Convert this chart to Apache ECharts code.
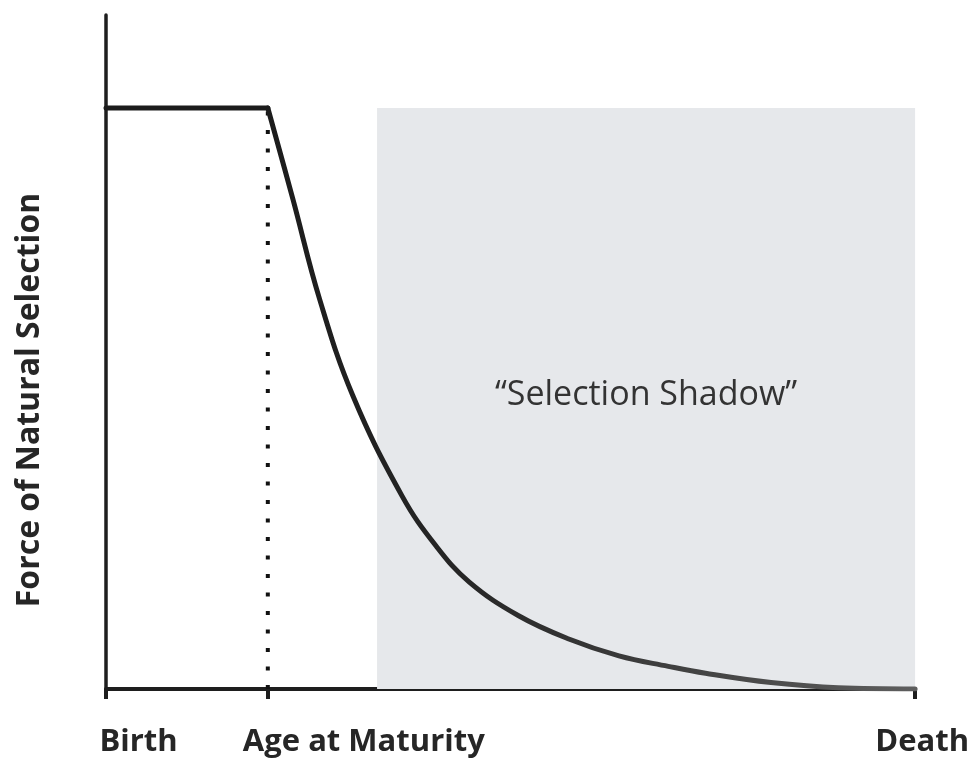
<!DOCTYPE html>
<html>
<head>
<meta charset="utf-8">
<script src="https://cdn.jsdelivr.net/npm/echarts@6/dist/echarts.min.js"></script>
<style>
  html, body { margin: 0; padding: 0; background: #fff; }
  #chart { width: 972px; height: 758px; }
</style>
</head>
<body>
<div id="chart"></div>
<script>
// x runs from birth (0) to death (100); y is the force of selection (flat = 100)
const tickValues = [0, 20, 100];
const tickLabels = ['Birth', 'Age at Maturity', 'Death'];
const curveX = [0, 20, 23.1, 26.4, 30.5, 36.6, 40.8, 44.9, 51.0, 57.2, 63.4, 69.5, 74.1, 82.2, 90.5, 100];
const curveY = [100, 100, 84.3, 67.1, 50.5, 33.2, 24.6, 18.4, 12.6, 8.6, 5.7, 3.9, 2.7, 1.1, 0.2, 0];
const maturityX = 20;
const shadowStart = 33.5;
const shadowLabel = '\u201CSelection Shadow\u201D';

const chart = echarts.init(document.getElementById('chart'));

const points = curveX.map((x, i) => [x, curveY[i]]);
const matIdx = curveX.indexOf(maturityX);

// shift each tick label sideways (centre alignment + left padding)
const labelPad = [65, 192, 14];
const rich = {};
tickLabels.forEach((t, i) => {
  rich['l' + i] = {
    fontFamily: 'Open Sans',
    fontWeight: 'bold',
    fontSize: 31,
    color: '#262626',
    padding: [0, 0, 0, labelPad[i]],
  };
});

chart.setOption({
  animation: false,
  grid: { left: 106, right: 55, top: 15, bottom: 68 },
  xAxis: {
    type: 'value',
    min: 0,
    max: 100,
    splitLine: { show: false },
    axisLine: { lineStyle: { color: '#1e1e1e', width: 4 } },
    axisTick: {
      show: true,
      customValues: tickValues,
      length: 10,
      lineStyle: { color: '#1e1e1e', width: 4 },
    },
    axisLabel: {
      customValues: tickValues,
      margin: 38,
      formatter: (v) => {
        const i = tickValues.indexOf(v);
        return i < 0 ? '' : '{l' + i + '|' + tickLabels[i] + '}';
      },
      rich: rich,
    },
  },
  yAxis: {
    type: 'value',
    min: 0,
    max: 116,
    name: 'Force of Natural Selection',
    nameLocation: 'middle',
    nameGap: 60,
    nameRotate: 90,
    nameTextStyle: {
      fontFamily: 'Open Sans',
      fontWeight: 'bold',
      fontSize: 32,
      color: '#262626',
      padding: [0, 96, 0, 0],
    },
    splitLine: { show: false },
    axisTick: { show: false },
    axisLabel: { show: false },
    axisLine: { show: true, lineStyle: { color: '#1e1e1e', width: 3.5 } },
  },
  series: [
    {
      type: 'line',
      z: 1,
      data: [],
      markArea: {
        silent: true,
        itemStyle: { color: '#e6e8eb' },
        label: {
          show: true,
          position: 'inside',
          offset: [0, -3],
          fontFamily: 'Open Sans',
          fontSize: 34,
          color: '#333',
        },
        data: [[
          { name: shadowLabel, xAxis: shadowStart, yAxis: 0 },
          { xAxis: 100, yAxis: 100 },
        ]],
      },
    },
    {
      type: 'line',
      z: 3,
      symbol: 'none',
      data: [[maturityX, 0], [maturityX, 100]],
      lineStyle: { color: '#111', width: 4, type: [4, 14.5], cap: 'butt' },
    },
    {
      // flat part before maturity
      type: 'line',
      z: 4,
      symbol: 'none',
      data: points.slice(0, matIdx + 1),
      lineStyle: { color: '#1c1c1c', width: 5, cap: 'round' },
    },
    {
      // decline after maturity
      type: 'line',
      z: 4,
      symbol: 'none',
      smooth: 0.4,
      data: points.slice(matIdx),
      lineStyle: {
        width: 5,
        cap: 'round',
        color: new echarts.graphic.LinearGradient(0, 0, 1, 0, [
          { offset: 0, color: '#1c1c1c' },
          { offset: 0.3, color: '#262626' },
          { offset: 1, color: '#5e5e5e' },
        ]),
      },
    },
  ],
});
</script>
</body>
</html>
